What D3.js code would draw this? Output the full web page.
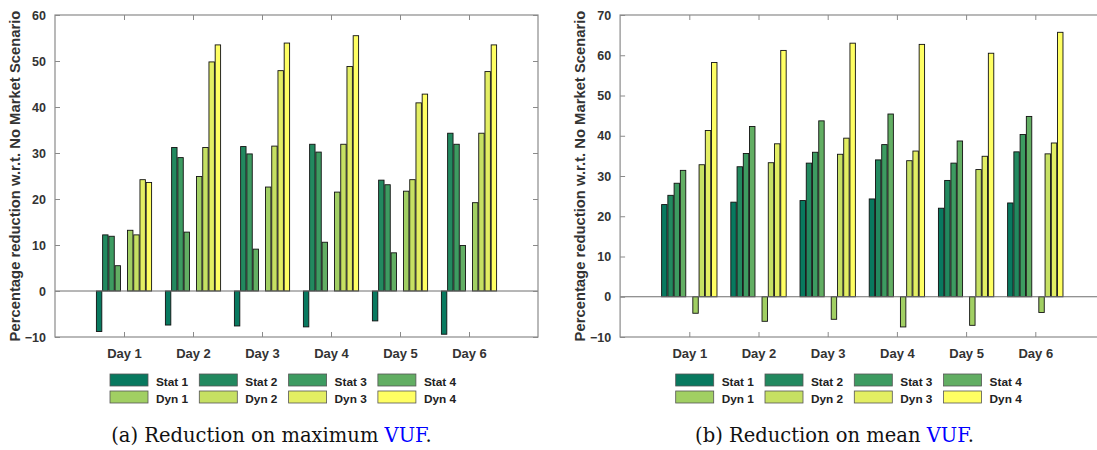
<!DOCTYPE html>
<html><head><meta charset="utf-8">
<script src="https://cdn.jsdelivr.net/npm/d3@7"></script>
<style>html,body{margin:0;padding:0;background:#fff;overflow:hidden}</style>
</head><body>
<script>
const days = ["Day 1","Day 2","Day 3","Day 4","Day 5","Day 6"];
const seriesNames = ["Stat 1","Stat 2","Stat 3","Stat 4","Dyn 1","Dyn 2","Dyn 3","Dyn 4"];
const seriesColors = ["#08795f","#22895f","#3d9b61","#62ae63","#a1cf63","#c6e063","#e3ee63","#ffff63"];

// (a) maximum VUF
const maxStat1 = [-8.8,-7.4,-7.6,-7.8,-6.5,-9.4];
const maxStat2 = [12.2,31.2,31.4,31.9,24.1,34.3];
const maxStat3 = [11.9,29.0,29.8,30.2,23.1,31.9];
const maxStat4 = [5.5,12.8,9.1,10.6,8.3,9.9];
const maxDyn1  = [13.2,24.9,22.6,21.5,21.7,19.2];
const maxDyn2  = [12.2,31.2,31.5,31.9,24.2,34.3];
const maxDyn3  = [24.2,49.8,47.9,48.8,40.9,47.7];
const maxDyn4  = [23.6,53.5,53.9,55.5,42.8,53.5];

// (b) mean VUF
const meanStat1 = [22.9,23.5,23.9,24.3,22.0,23.3];
const meanStat2 = [25.2,32.3,33.2,34.0,28.9,36.0];
const meanStat3 = [28.2,35.6,35.9,37.8,33.2,40.3];
const meanStat4 = [31.4,42.3,43.7,45.4,38.7,44.8];
const meanDyn1  = [-4.1,-6.1,-5.6,-7.5,-7.1,-3.9];
const meanDyn2  = [32.8,33.3,35.4,33.8,31.6,35.5];
const meanDyn3  = [41.3,38.0,39.4,36.2,34.9,38.2];
const meanDyn4  = [58.2,61.2,63.0,62.7,60.5,65.7];

const yTicksA = [-10,0,10,20,30,40,50,60];
const yTicksB = [-10,0,10,20,30,40,50,60,70];
const yLabel = "Percentage reduction w.r.t. No Market Scenario";

const svg = d3.select("body").append("svg").attr("width",1097).attr("height",450);

function panel(cfg){
  const {x0,x1,y0,y1,yDomain,yTicks,series,labelX,legendX,captionX,captionLetter,captionWord} = cfg;
  const g = svg.append("g");
  const x = d3.scaleLinear().domain([0,7]).range([x0,x1]);
  const y = d3.scaleLinear().domain(yDomain).range([y1,y0]);
  const step = x(1)-x(0);
  const slots = d3.scaleBand().domain(d3.range(9)).range([-0.4*step,0.4*step]).paddingInner(0.13);
  const slotOf = [0,1,2,3,5,6,7,8];

  // bars
  series.forEach((vals,si)=>{
    g.append("g").selectAll("rect").data(vals).join("rect")
      .attr("x",(d,i)=>x(i+1)+slots(slotOf[si]))
      .attr("width",slots.bandwidth())
      .attr("y",d=>y(Math.max(0,d)))
      .attr("height",d=>Math.abs(y(d)-y(0)))
      .attr("fill",seriesColors[si])
      .attr("stroke","#111").attr("stroke-width",0.9);
  });
  // baseline
  g.append("line").attr("x1",x0).attr("x2",x1).attr("y1",y(0)).attr("y2",y(0))
    .attr("stroke","#6e6e6e").attr("stroke-width",1);
  // box
  g.append("rect").attr("x",x0).attr("y",y0).attr("width",x1-x0).attr("height",y1-y0)
    .attr("fill","none").attr("stroke","#8a8a8a").attr("stroke-width",1.2);

  // axes
  const axB = d3.axisBottom(x).tickValues(d3.range(1,7)).tickFormat(d=>days[d-1]).tickSizeInner(-5).tickSizeOuter(0).tickPadding(12);
  const axT = d3.axisTop(x).tickValues(d3.range(1,7)).tickFormat("").tickSizeInner(-5).tickSizeOuter(0);
  const axL = d3.axisLeft(y).tickValues(yTicks).tickSizeInner(-5).tickSizeOuter(0).tickPadding(9);
  const axR = d3.axisRight(y).tickValues(yTicks).tickFormat("").tickSizeInner(-5).tickSizeOuter(0);
  [[axB,`translate(0,${y1})`],[axT,`translate(0,${y0})`],[axL,`translate(${x0},0)`],[axR,`translate(${x1},0)`]].forEach(([ax,tr])=>{
    const a = g.append("g").attr("transform",tr).call(ax);
    a.select(".domain").remove();
    a.selectAll(".tick line").attr("stroke","#8a8a8a");
    a.selectAll("text").attr("fill","#333").attr("font-family","Liberation Sans, Arial, sans-serif").attr("font-weight","bold");
  });
  g.selectAll("text").filter(function(){return this.textContent.startsWith("Day");}).attr("font-size",13);
  g.selectAll(".tick text").filter(function(){return !this.textContent.startsWith("Day");}).attr("font-size",12.5);

  // y label
  g.append("text").attr("transform",`translate(${labelX},${(y0+y1)/2}) rotate(-90)`)
    .attr("text-anchor","middle").attr("font-family","Liberation Sans, Arial, sans-serif")
    .attr("font-weight","bold").attr("font-size",14.8).attr("fill","#333").text(yLabel);

  // legend
  const lg = g.append("g");
  seriesNames.forEach((n,i)=>{
    const col = i%4, row = Math.floor(i/4);
    const lx = legendX + col*89.3, ly = 374 + row*17;
    lg.append("rect").attr("x",lx).attr("y",ly).attr("width",38).attr("height",12)
      .attr("fill",seriesColors[i]).attr("stroke","#555").attr("stroke-width",0.8);
    lg.append("text").attr("x",lx+46).attr("y",ly+11.5).attr("font-family","Liberation Sans, Arial, sans-serif")
      .attr("font-weight","bold").attr("font-size",11.8).attr("fill","#222").text(n);
  });

  // caption
  const cap = g.append("text").attr("x",captionX).attr("y",442).attr("text-anchor","middle")
    .attr("font-family","DejaVu Serif, serif").attr("font-size",19.5).attr("fill","#111");
  cap.append("tspan").text(`(${captionLetter}) ${captionWord} `);
  cap.append("tspan").attr("fill","#0000ff").text("VUF");
  cap.append("tspan").text(".");
}

panel({x0:55,x1:538,y0:15,y1:337,yDomain:[-10,60],yTicks:yTicksA,
  series:[maxStat1,maxStat2,maxStat3,maxStat4,maxDyn1,maxDyn2,maxDyn3,maxDyn4],
  labelX:20,legendX:110,captionX:271.5,captionLetter:"a",captionWord:"Reduction on maximum"});
panel({x0:620.1,x1:1104.5,y0:15,y1:337,yDomain:[-10,70],yTicks:yTicksB,
  series:[meanStat1,meanStat2,meanStat3,meanStat4,meanDyn1,meanDyn2,meanDyn3,meanDyn4],
  labelX:585,legendX:675.7,captionX:834.5,captionLetter:"b",captionWord:"Reduction on mean"});
</script>
</body></html>
